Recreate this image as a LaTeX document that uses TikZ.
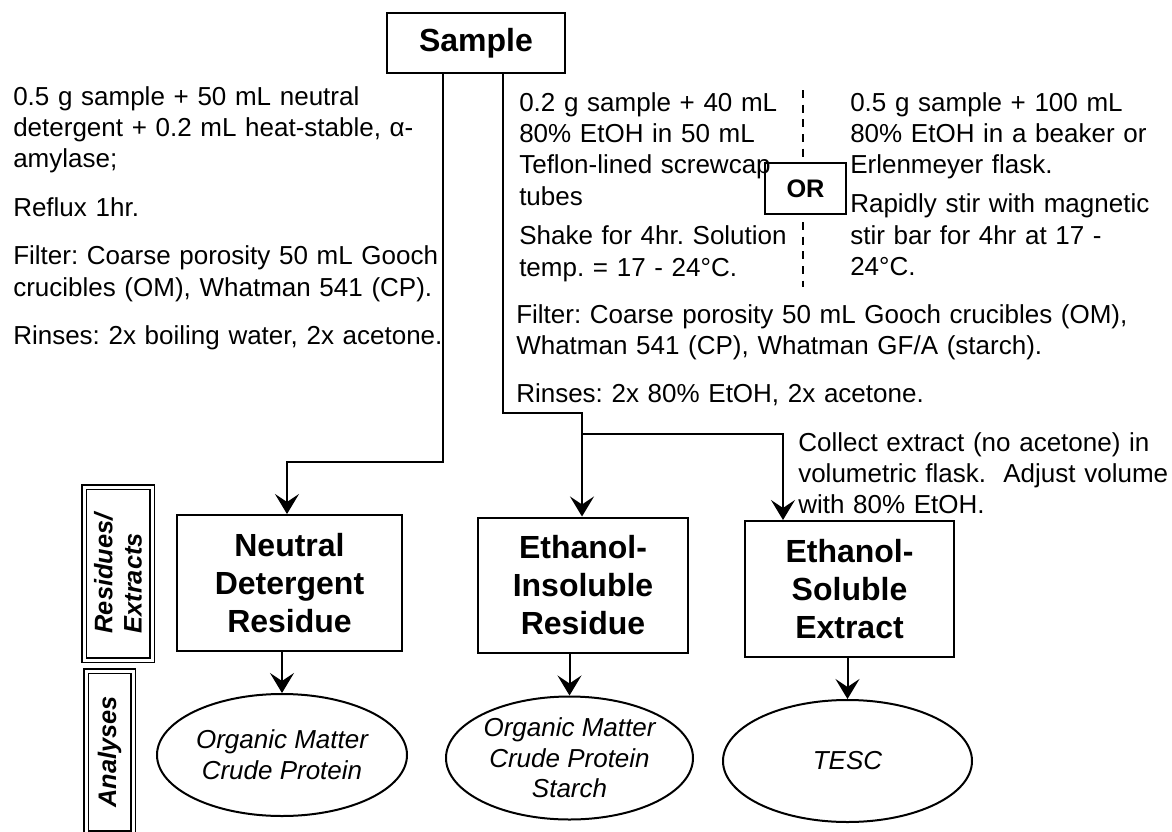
\documentclass[tikz,border=0pt]{standalone}
\usepackage{fontspec}
\setmainfont{Liberation Sans}
\usetikzlibrary{arrows.meta,shapes.geometric}
\frenchspacing
\begin{document}
\begin{tikzpicture}[x=0.75pt,y=-0.75pt,
  arr/.style={line width=1.5pt,-{Stealth[length=15pt,width=18pt,inset=6pt]}},
  bigbox/.style={draw,line width=1.5pt,rectangle,inner sep=0pt,align=center,font=\fontsize{24pt}{28.5pt}\selectfont\bfseries},
  oval/.style={draw,line width=1.5pt,ellipse,inner sep=0pt,align=center,font=\fontsize{19.5pt}{23pt}\selectfont\itshape},
  body/.style={anchor=base west,inner sep=0pt,align=left,text width=#1,font=\fontsize{19.5pt}{23.6pt}\selectfont\frenchspacing},
  sidebox/.style={draw,double,double distance=2.25pt,line width=1.1pt,rotate=90,inner sep=0pt,align=left,font=\fontsize{19pt}{22pt}\selectfont\bfseries\itshape},
  dashline/.style={line width=1.3pt,dash pattern=on 6pt off 5pt},
  orbox/.style={draw,line width=1.1pt,fill=white,inner sep=0pt,font=\fontsize{19pt}{22pt}\selectfont\bfseries}
]
\fill[white] (0,0) rectangle (1172,832);
\useasboundingbox (0,0) rectangle (1172,832);

% top box
\node[bigbox,minimum width=133.5pt,minimum height=45pt] (sample) at (476,43) {Sample};

% OR separator
\coordinate (dtop) at (803,90);
\coordinate (dbot) at (803,287);
\draw[dashline] (dtop) -- (dbot);
\node[orbox,minimum width=60.75pt,minimum height=38.25pt] (or) at (805.5,188.5) {OR};

% text blocks
\node[body=360pt] (t1) at (13,105) {0.5 g sample + 50 mL neutral\\ detergent + 0.2 mL heat-stable, α-\\ amylase;\\[12.75pt] Reflux 1hr.\\[12.75pt] Filter: Coarse porosity 50 mL Gooch\\ crucibles (OM), Whatman 541 (CP).\\[12.75pt] Rinses: 2x boiling water, 2x acetone.};
\node[body=240pt] (t2) at (519,111) {0.2 g sample + 40 mL\\ 80\% EtOH in 50 mL\\ Teflon-lined screwcap\\ tubes\\[6pt] Shake for 4hr. Solution\\ temp. = 17 - 24°C.};
\node[body=250pt] (t3) at (850,111) {0.5 g sample + 100 mL\\ 80\% EtOH in a beaker or\\ Erlenmeyer flask.\\[5.6pt] Rapidly stir with magnetic\\ stir bar for 4hr at 17 -\\ 24°C.};
\node[body=490pt] (t4) at (516,323) {Filter: Coarse porosity 50 mL Gooch crucibles (OM),\\ Whatman 541 (CP), Whatman GF/A (starch).\\[12.75pt] Rinses: 2x 80\% EtOH, 2x acetone.};
\node[body=280pt] (t5) at (798,451) {Collect extract (no acetone) in\\ volumetric flask.\ \ Adjust volume\\ with 80\% EtOH.};

% residues / extracts
\node[bigbox,minimum width=168.75pt,minimum height=102pt] (ndr) at (289.5,583) {Neutral\\Detergent\\Residue};
\node[bigbox,minimum width=157.5pt,minimum height=101.25pt] (eir) at (583,585) {Ethanol-\\Insoluble\\Residue};
\node[bigbox,minimum width=156.75pt,minimum height=102pt] (ese) at (849.5,589) {Ethanol-\\Soluble\\Extract};

% analyses
\node[oval,minimum width=187.5pt,minimum height=91.5pt] (e1) at (282,755) {Organic Matter\\Crude Protein};
\node[oval,minimum width=185.25pt,minimum height=92.25pt] (e2) at (569.5,758) {Organic Matter\\Crude Protein\\Starch};
\node[oval,minimum width=186.75pt,minimum height=91.5pt] (e3) at (847.5,761) {TESC};

% side labels
\node[sidebox,minimum width=129.75pt,minimum height=51pt] (res) at (118,573.5) {Residues/\\Extracts};
\node[sidebox,minimum width=121.5pt,minimum height=35.25pt] (ana) at (109.5,752) {Analyses};

% connectors
\coordinate (j1) at (443,462);
\coordinate (j2) at (287,462);
\coordinate (j3) at (503,413);
\coordinate (j4) at (582,413);
\coordinate (j5) at (582,434);
\coordinate (j6) at (783,434);
\draw[arr] (sample.south -| j1) -- (j1) -- (j2) -- (j2 |- ndr.north);
\draw[arr] (sample.south -| j3) -- (j3) -- (j4) -- (j4 |- eir.north);
\draw[arr] (j5) -- (j6) -- (j6 |- ese.north);
\draw[arr] (ndr.south -| e1.north) -- (e1.north);
\draw[arr] (eir.south -| e2.north) -- (e2.north);
\draw[arr] (ese.south -| e3.north) -- (e3.north);
\end{tikzpicture}
\end{document}
